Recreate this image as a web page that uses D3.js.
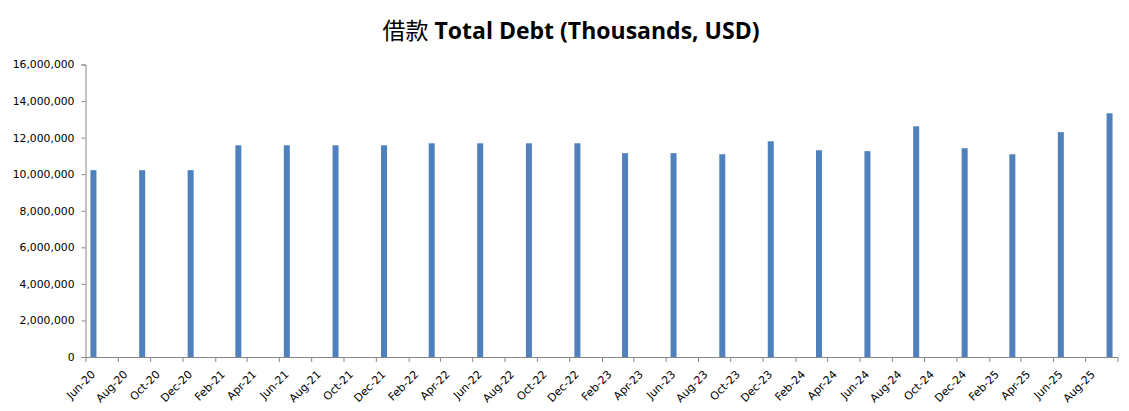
<!DOCTYPE html>
<html><head><meta charset="utf-8">
<script src="https://cdn.jsdelivr.net/npm/d3@7"></script>
<style>
body{margin:0;background:#fff;}
svg{display:block;}
</style></head>
<body>
<svg id="c" width="1129" height="411"></svg>
<script>
const periods = ["2020-06","2020-09","2020-12","2021-03","2021-06","2021-09","2021-12","2022-03","2022-06","2022-09","2022-12","2023-03","2023-06","2023-09","2023-12","2024-03","2024-06","2024-09","2024-12","2025-03","2025-06","2025-09"];
const totalDebt = [10220000,10220000,10220000,11580000,11580000,11580000,11580000,11690000,11690000,11690000,11690000,11150000,11150000,11090000,11800000,11310000,11260000,12620000,11420000,11090000,12300000,13330000];
const yTicks = [0,2000000,4000000,6000000,8000000,10000000,12000000,14000000,16000000];
const titleCJK = "借款";
const titleLatin = " Total Debt (Thousands, USD)";

(function(){
const parse = d3.timeParse("%Y-%m");
const data = periods.map((p,i)=>({date:parse(p), value:totalDebt[i]}));

const svg = d3.select("#c");
const mLeft = 85.5, mRight = 1117.5, mTop = 64.5, mBottom = 357;
const axisColor = "#868686";

const x = d3.scaleTime()
  .domain([parse("2020-06"), d3.timeMonth.offset(parse(periods[periods.length-1]),1)])
  .range([mLeft, mRight]);
const y = d3.scaleLinear().domain([0,16000000]).range([mBottom, mTop]);

const t = svg.append("text")
  .attr("x", 571).attr("y", 39)
  .attr("text-anchor","middle")
  .attr("font-family","'Open Sans', 'Noto Sans CJK SC', sans-serif")
  .attr("font-size","23px")
  .attr("fill","#000");
t.append("tspan").attr("font-family","'Noto Sans CJK SC', sans-serif").attr("font-weight","normal").text(titleCJK);
t.append("tspan").attr("font-weight","bold").text(titleLatin);

const barW = 6;
svg.append("g").selectAll("rect").data(data).enter().append("rect")
  .attr("x", d => (x(d.date) + x(d3.timeMonth.offset(d.date,1)))/2 - barW/2)
  .attr("width", barW)
  .attr("y", d => y(d.value))
  .attr("height", d => y(0) - y(d.value))
  .attr("fill", "#4F81BD");

const yAxis = d3.axisLeft(y).tickValues(yTicks).tickFormat(d3.format(",")).tickSize(4).tickPadding(7);
const gy = svg.append("g").attr("transform",`translate(${mLeft},0)`).call(yAxis);
gy.select(".domain").attr("stroke",axisColor);
gy.selectAll(".tick line").attr("stroke",axisColor);
gy.selectAll(".tick text").attr("font-family","'DejaVu Sans', sans-serif").attr("font-size","10.8px").attr("fill","#000");

const xTickVals = d3.timeMonth.range(parse("2020-06"), d3.timeMonth.offset(x.domain()[1],1), 2);
const xAxis = d3.axisBottom(x).tickValues(xTickVals).tickFormat(d3.timeFormat("%b-%y")).tickSize(5).tickSizeOuter(0);
const gx = svg.append("g").attr("transform",`translate(0,${mBottom})`).call(xAxis);
gx.select(".domain").attr("stroke",axisColor);
gx.selectAll(".tick line").attr("stroke",axisColor);
gx.selectAll(".tick text")
  .attr("font-family","'DejaVu Sans', sans-serif").attr("font-size","11px").attr("fill","#000")
  .attr("text-anchor","end")
  .attr("dy",null).attr("y",null)
  .attr("transform","translate(10,18) rotate(-45)")
  .text(d => +d >= +x.domain()[1] ? "" : d3.timeFormat("%b-%y")(d));
})();
</script>
</body></html>
